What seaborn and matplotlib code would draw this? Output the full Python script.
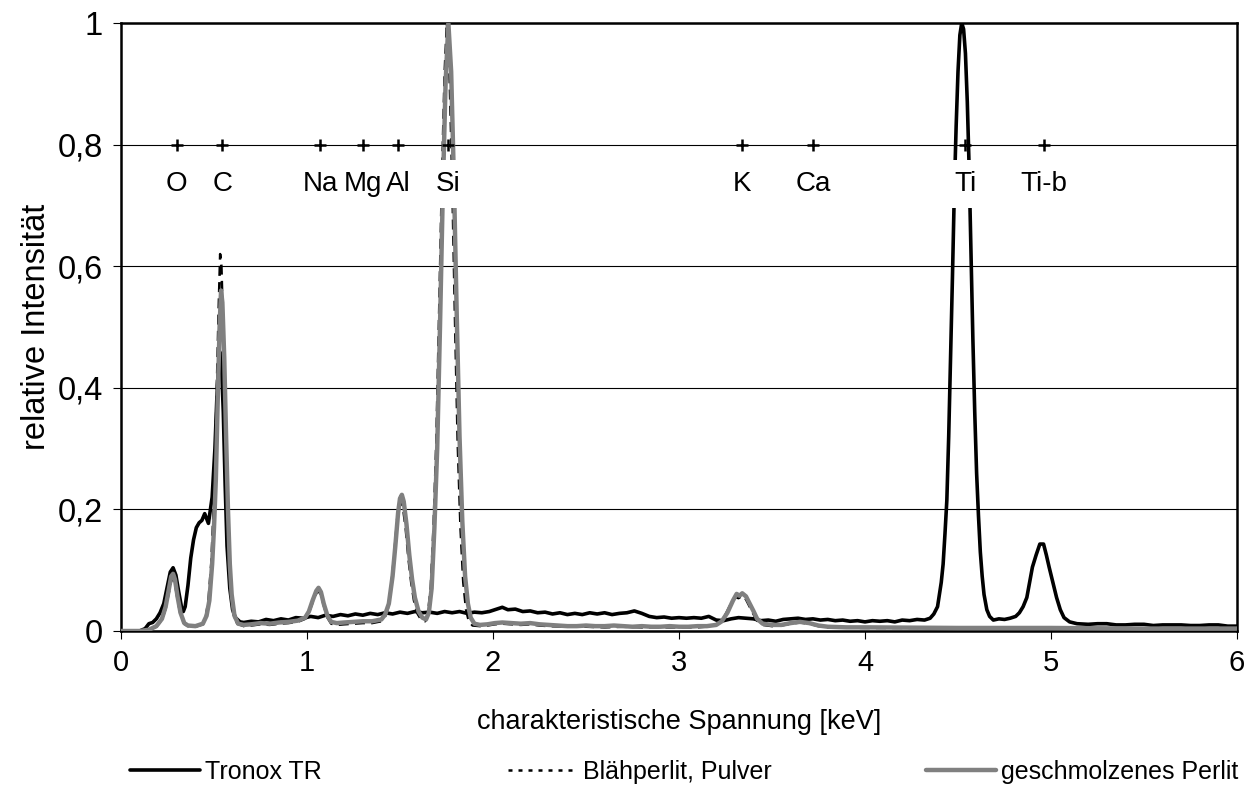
import matplotlib
matplotlib.use("Agg")
import matplotlib.pyplot as plt
from matplotlib.lines import Line2D
import pandas as pd
import seaborn as sns

# ---- spectra (energy in keV, intensity normalised to 1) ----
tronox_x = [0.00, 0.10, 0.13, 0.15, 0.17, 0.19, 0.21, 0.23, 0.25, 0.265, 0.28, 0.295, 0.31, 0.325,
            0.335, 0.345, 0.36, 0.375, 0.39, 0.405, 0.42, 0.435, 0.45, 0.46, 0.47, 0.49, 0.505,
            0.515, 0.525, 0.532, 0.54, 0.55, 0.56, 0.57, 0.585, 0.60, 0.615, 0.64,
            0.66, 0.70, 0.74, 0.78, 0.82, 0.86, 0.90, 0.94, 0.98, 1.02, 1.06, 1.10, 1.14, 1.18,
            1.22, 1.26, 1.30, 1.34, 1.38, 1.42, 1.46, 1.50, 1.54, 1.58, 1.62, 1.66, 1.70, 1.74,
            1.78, 1.82, 1.86, 1.90, 1.94, 1.98, 2.02, 2.05, 2.08, 2.12, 2.16, 2.20, 2.24, 2.28,
            2.32, 2.36, 2.40, 2.44, 2.48, 2.52, 2.56, 2.60, 2.64, 2.68, 2.72, 2.76, 2.80, 2.84,
            2.88, 2.92, 2.96, 3.00, 3.04, 3.08, 3.12, 3.16, 3.20, 3.24, 3.28, 3.32, 3.36, 3.40,
            3.44, 3.48, 3.52, 3.56, 3.60, 3.64, 3.68, 3.72, 3.76, 3.80, 3.84, 3.88, 3.92, 3.96,
            4.00, 4.04, 4.08, 4.12, 4.16, 4.20, 4.24, 4.28, 4.32, 4.35, 4.37, 4.39, 4.41, 4.42,
            4.43, 4.44, 4.45, 4.46, 4.47, 4.48, 4.49, 4.50, 4.51, 4.52, 4.53, 4.54, 4.55, 4.56,
            4.57, 4.58, 4.59, 4.60, 4.61, 4.62, 4.63, 4.64, 4.655, 4.67, 4.69, 4.72, 4.75, 4.78,
            4.81, 4.83, 4.85, 4.87, 4.885, 4.90, 4.92, 4.94, 4.96, 4.975, 4.99, 5.01, 5.03, 5.05,
            5.07, 5.10, 5.14, 5.20, 5.25, 5.30, 5.35, 5.40, 5.45, 5.50, 5.55, 5.60, 5.65, 5.70,
            5.75, 5.80, 5.85, 5.90, 5.95, 6.00]
tronox_y = [0.000, 0.000, 0.004, 0.012, 0.014, 0.020, 0.030, 0.045, 0.075, 0.097, 0.104, 0.092, 0.065, 0.040,
            0.032, 0.040, 0.075, 0.120, 0.150, 0.170, 0.178, 0.182, 0.193, 0.185, 0.177, 0.220, 0.300,
            0.380, 0.440, 0.459, 0.440, 0.360, 0.240, 0.140, 0.070, 0.035, 0.022, 0.015,
            0.014, 0.016, 0.015, 0.019, 0.017, 0.020, 0.018, 0.022, 0.021, 0.024, 0.022, 0.026, 0.024, 0.027,
            0.025, 0.028, 0.026, 0.029, 0.027, 0.030, 0.028, 0.031, 0.029, 0.032, 0.030, 0.031, 0.029, 0.032,
            0.030, 0.032, 0.029, 0.031, 0.030, 0.032, 0.036, 0.039, 0.035, 0.036, 0.032, 0.033, 0.030, 0.031,
            0.028, 0.030, 0.027, 0.029, 0.027, 0.030, 0.028, 0.030, 0.027, 0.029, 0.030, 0.033, 0.029, 0.024,
            0.022, 0.023, 0.021, 0.022, 0.021, 0.022, 0.021, 0.024, 0.018, 0.017, 0.020, 0.022, 0.021, 0.020,
            0.017, 0.018, 0.016, 0.019, 0.020, 0.021, 0.019, 0.020, 0.018, 0.019, 0.017, 0.018, 0.016, 0.017,
            0.015, 0.017, 0.016, 0.017, 0.015, 0.018, 0.017, 0.019, 0.018, 0.021, 0.028, 0.040, 0.080, 0.110,
            0.160, 0.215, 0.320, 0.450, 0.580, 0.720, 0.830, 0.920, 0.980, 1.000, 0.990, 0.950, 0.870, 0.760,
            0.620, 0.480, 0.360, 0.260, 0.190, 0.130, 0.090, 0.060, 0.035, 0.024, 0.018, 0.020, 0.019, 0.021,
            0.024, 0.030, 0.040, 0.055, 0.080, 0.105, 0.125, 0.143, 0.143, 0.125, 0.105, 0.080, 0.055, 0.035,
            0.022, 0.015, 0.012, 0.011, 0.012, 0.012, 0.010, 0.010, 0.011, 0.011, 0.009, 0.010, 0.010, 0.010,
            0.009, 0.009, 0.010, 0.010, 0.008, 0.008]

blaeh_x = [0.00, 0.10, 0.15, 0.19, 0.22, 0.24, 0.255, 0.27, 0.28, 0.29, 0.305, 0.32, 0.34, 0.36, 0.40,
           0.44, 0.455, 0.47, 0.485, 0.495, 0.505, 0.515, 0.525, 0.533, 0.54, 0.55, 0.56, 0.57, 0.58,
           0.59, 0.605, 0.625, 0.66, 0.70, 0.75, 0.80, 0.85, 0.90, 0.95, 0.99, 1.01, 1.03, 1.05, 1.06,
           1.075, 1.09, 1.11, 1.13, 1.16, 1.20, 1.25, 1.30, 1.35, 1.40, 1.42, 1.44, 1.455, 1.47, 1.485,
           1.495, 1.505, 1.515, 1.53, 1.545, 1.56, 1.575, 1.595, 1.615, 1.635, 1.65, 1.665, 1.68, 1.695,
           1.71, 1.725, 1.74, 1.752, 1.765, 1.78, 1.795, 1.81, 1.825, 1.84, 1.855, 1.87, 1.89, 1.93,
           1.97, 2.01, 2.05, 2.10, 2.15, 2.20, 2.25, 2.30, 2.40, 2.50, 2.60, 2.70, 2.80, 2.90, 3.00,
           3.10, 3.18, 3.22, 3.25, 3.28, 3.30, 3.32, 3.34, 3.36, 3.38, 3.40, 3.42, 3.45, 3.50, 3.55,
           3.60, 3.65, 3.70, 3.75, 3.80, 4.00, 4.50, 5.00, 5.50, 6.00]
blaeh_y = [0.000, 0.000, 0.002, 0.007, 0.018, 0.037, 0.060, 0.083, 0.086, 0.078, 0.050, 0.027, 0.012, 0.008, 0.007,
           0.011, 0.022, 0.050, 0.110, 0.180, 0.270, 0.400, 0.530, 0.620, 0.600, 0.490, 0.350, 0.220, 0.120,
           0.065, 0.028, 0.012, 0.008, 0.009, 0.011, 0.010, 0.012, 0.013, 0.015, 0.020, 0.030, 0.047, 0.062, 0.066,
           0.060, 0.042, 0.022, 0.012, 0.010, 0.011, 0.012, 0.013, 0.013, 0.016, 0.024, 0.042, 0.080, 0.130, 0.185,
           0.208, 0.215, 0.205, 0.170, 0.120, 0.080, 0.050, 0.028, 0.018, 0.016, 0.028, 0.070, 0.170, 0.310,
           0.520, 0.740, 0.920, 1.000, 0.930, 0.750, 0.520, 0.310, 0.170, 0.080, 0.035, 0.016, 0.009, 0.008,
           0.009, 0.011, 0.012, 0.011, 0.010, 0.011, 0.009, 0.008, 0.007, 0.007, 0.006, 0.007, 0.006, 0.006, 0.006,
           0.006, 0.008, 0.014, 0.027, 0.045, 0.056, 0.054, 0.058, 0.052, 0.040, 0.028, 0.017, 0.010, 0.008, 0.009,
           0.012, 0.014, 0.012, 0.008, 0.006, 0.005, 0.005, 0.005, 0.004, 0.004]

perlit_x = [0.00, 0.10, 0.15, 0.19, 0.22, 0.24, 0.255, 0.27, 0.28, 0.29, 0.305, 0.32, 0.34, 0.36, 0.40,
            0.44, 0.46, 0.475, 0.49, 0.50, 0.51, 0.52, 0.53, 0.538, 0.545, 0.555, 0.565, 0.575, 0.585,
            0.595, 0.61, 0.63, 0.66, 0.70, 0.75, 0.80, 0.85, 0.90, 0.95, 0.99, 1.01, 1.03, 1.05, 1.062,
            1.075, 1.09, 1.11, 1.13, 1.16, 1.20, 1.25, 1.30, 1.35, 1.40, 1.42, 1.44, 1.46, 1.475, 1.49,
            1.50, 1.51, 1.52, 1.535, 1.55, 1.565, 1.58, 1.60, 1.62, 1.64, 1.655, 1.67, 1.685, 1.70,
            1.715, 1.73, 1.745, 1.76, 1.775, 1.79, 1.805, 1.82, 1.835, 1.85, 1.865, 1.88, 1.90, 1.93,
            1.97, 2.01, 2.05, 2.10, 2.15, 2.20, 2.25, 2.30, 2.35, 2.40, 2.45, 2.50, 2.55, 2.60, 2.65,
            2.70, 2.75, 2.80, 2.85, 2.90, 2.95, 3.00, 3.05, 3.10, 3.15, 3.20, 3.23, 3.26, 3.29, 3.31,
            3.325, 3.34, 3.36, 3.38, 3.40, 3.42, 3.45, 3.50, 3.55, 3.60, 3.65, 3.70, 3.75, 3.80, 3.90,
            4.00, 4.50, 5.00, 5.50, 6.00]
perlit_y = [0.000, 0.000, 0.002, 0.008, 0.020, 0.040, 0.065, 0.090, 0.094, 0.085, 0.055, 0.030, 0.013, 0.009, 0.008,
            0.012, 0.025, 0.050, 0.110, 0.170, 0.250, 0.380, 0.500, 0.560, 0.540, 0.450, 0.320, 0.200, 0.110,
            0.060, 0.025, 0.012, 0.010, 0.011, 0.013, 0.012, 0.014, 0.015, 0.017, 0.022, 0.032, 0.050, 0.066, 0.071,
            0.064, 0.045, 0.025, 0.015, 0.013, 0.014, 0.015, 0.016, 0.016, 0.019, 0.027, 0.045, 0.090, 0.140, 0.195,
            0.218, 0.224, 0.213, 0.175, 0.125, 0.085, 0.055, 0.032, 0.022, 0.019, 0.030, 0.070, 0.170, 0.300,
            0.500, 0.720, 0.900, 1.000, 0.920, 0.740, 0.520, 0.320, 0.180, 0.090, 0.045, 0.022, 0.012, 0.010,
            0.011, 0.013, 0.014, 0.013, 0.012, 0.013, 0.011, 0.010, 0.009, 0.008, 0.008, 0.009, 0.008, 0.008, 0.009,
            0.008, 0.007, 0.008, 0.007, 0.007, 0.008, 0.007, 0.007, 0.008, 0.008, 0.010, 0.016, 0.030, 0.050, 0.061,
            0.058, 0.062, 0.057, 0.045, 0.033, 0.020, 0.012, 0.010, 0.010, 0.013, 0.015, 0.013, 0.009, 0.007, 0.006,
            0.006, 0.005, 0.005, 0.004, 0.004]

# ---- element line markers ----
element_names = ["O", "C", "Na", "Mg", "Al", "Si", "K", "Ca", "Ti", "Ti-b"]
element_energy = [0.30, 0.545, 1.07, 1.30, 1.49, 1.76, 3.34, 3.72, 4.54, 4.96]
marker_level = 0.8
label_level = 0.735

# ---- axes ----
x_ticks = [0, 1, 2, 3, 4, 5, 6]
y_ticks = [0, 0.2, 0.4, 0.6, 0.8, 1.0]
y_tick_labels = ["0", "0,2", "0,4", "0,6", "0,8", "1"]
series_names = ["Tronox TR", "Blähperlit, Pulver", "geschmolzenes Perlit"]

sns.set_theme(style="ticks")
plt.rcParams["font.family"] = ["Liberation Sans", "DejaVu Sans"]
for key in ["text.color", "axes.labelcolor", "xtick.color", "ytick.color"]:
    plt.rcParams[key] = "black"

fig = plt.figure(figsize=(12.52, 7.87), dpi=100)
ax = fig.add_axes([121 / 1252, 1 - 631 / 787, (1237 - 121) / 1252, (631 - 23) / 787])

ax.set_axisbelow(True)
ax.yaxis.grid(True, color="black", linewidth=0.8)
ax.xaxis.grid(False)

black = "#000000"
grey = "#808080"

df_t = pd.DataFrame({"x": tronox_x, "y": tronox_y})
df_b = pd.DataFrame({"x": blaeh_x, "y": blaeh_y})
df_p = pd.DataFrame({"x": perlit_x, "y": perlit_y})

sns.lineplot(data=df_t, x="x", y="y", ax=ax, color=black, linewidth=2.6,
             sort=False, estimator=None, zorder=3)
sns.lineplot(data=df_b, x="x", y="y", ax=ax, color=black, linewidth=1.8,
             linestyle=(0, (4, 2.5)), sort=False, estimator=None, zorder=4)
sns.lineplot(data=df_p, x="x", y="y", ax=ax, color=grey, linewidth=3.2,
             sort=False, estimator=None, zorder=5)

# white patches behind the element labels, then the labels on top of all patches
for name, e in zip(element_names, element_energy):
    ax.text(e, label_level, name, ha="center", va="center", fontsize=20,
            color=(0, 0, 0, 0), zorder=6,
            bbox=dict(boxstyle="square,pad=0.4", fc="white", ec="none"))
for name, e in zip(element_names, element_energy):
    ax.text(e, label_level, name, ha="center", va="center", fontsize=20,
            color=black, zorder=7)
ax.plot(element_energy, [marker_level] * len(element_energy), linestyle="none",
        marker="+", markersize=9, markeredgewidth=1.8, color=black, zorder=8)

ax.set_xlim(0, 6)
ax.set_ylim(0, 1)
ax.set_xticks(x_ticks)
ax.set_xticklabels([str(v) for v in x_ticks], fontsize=21)
ax.set_yticks(y_ticks)
ax.set_yticklabels(y_tick_labels, fontsize=23.5)
ax.tick_params(axis="both", which="major", direction="out", length=6, width=0.8, color=black)
ax.tick_params(axis="x", pad=7)
ax.tick_params(axis="y", pad=7)

for side in ["left", "bottom", "right", "top"]:
    ax.spines[side].set_visible(True)
    ax.spines[side].set_color(black)
    ax.spines[side].set_linewidth(1.8)

ax.set_xlabel("charakteristische Spannung [keV]", fontsize=19.5, labelpad=23)
ax.set_ylabel("relative Intensität", fontsize=23.5, labelpad=4)

# legend: one entry per slot along the bottom edge
handles = [
    Line2D([], [], color=black, linewidth=2.6),
    Line2D([], [], color=black, linewidth=1.8, linestyle=(0, (1.6, 2.4))),
    Line2D([], [], color=grey, linewidth=3.2),
]
slot_x = [130, 508, 926]
for h, name, sx in zip(handles, series_names, slot_x):
    fig.legend(handles=[h], labels=[name], loc="center left",
               bbox_to_anchor=(sx / 1252, 1 - 772 / 787), bbox_transform=fig.transFigure,
               frameon=False, borderpad=0, borderaxespad=0, handlelength=2.8,
               handletextpad=0.2, prop={"size": 18})

fig.savefig("out.png", dpi=100, facecolor="white")
